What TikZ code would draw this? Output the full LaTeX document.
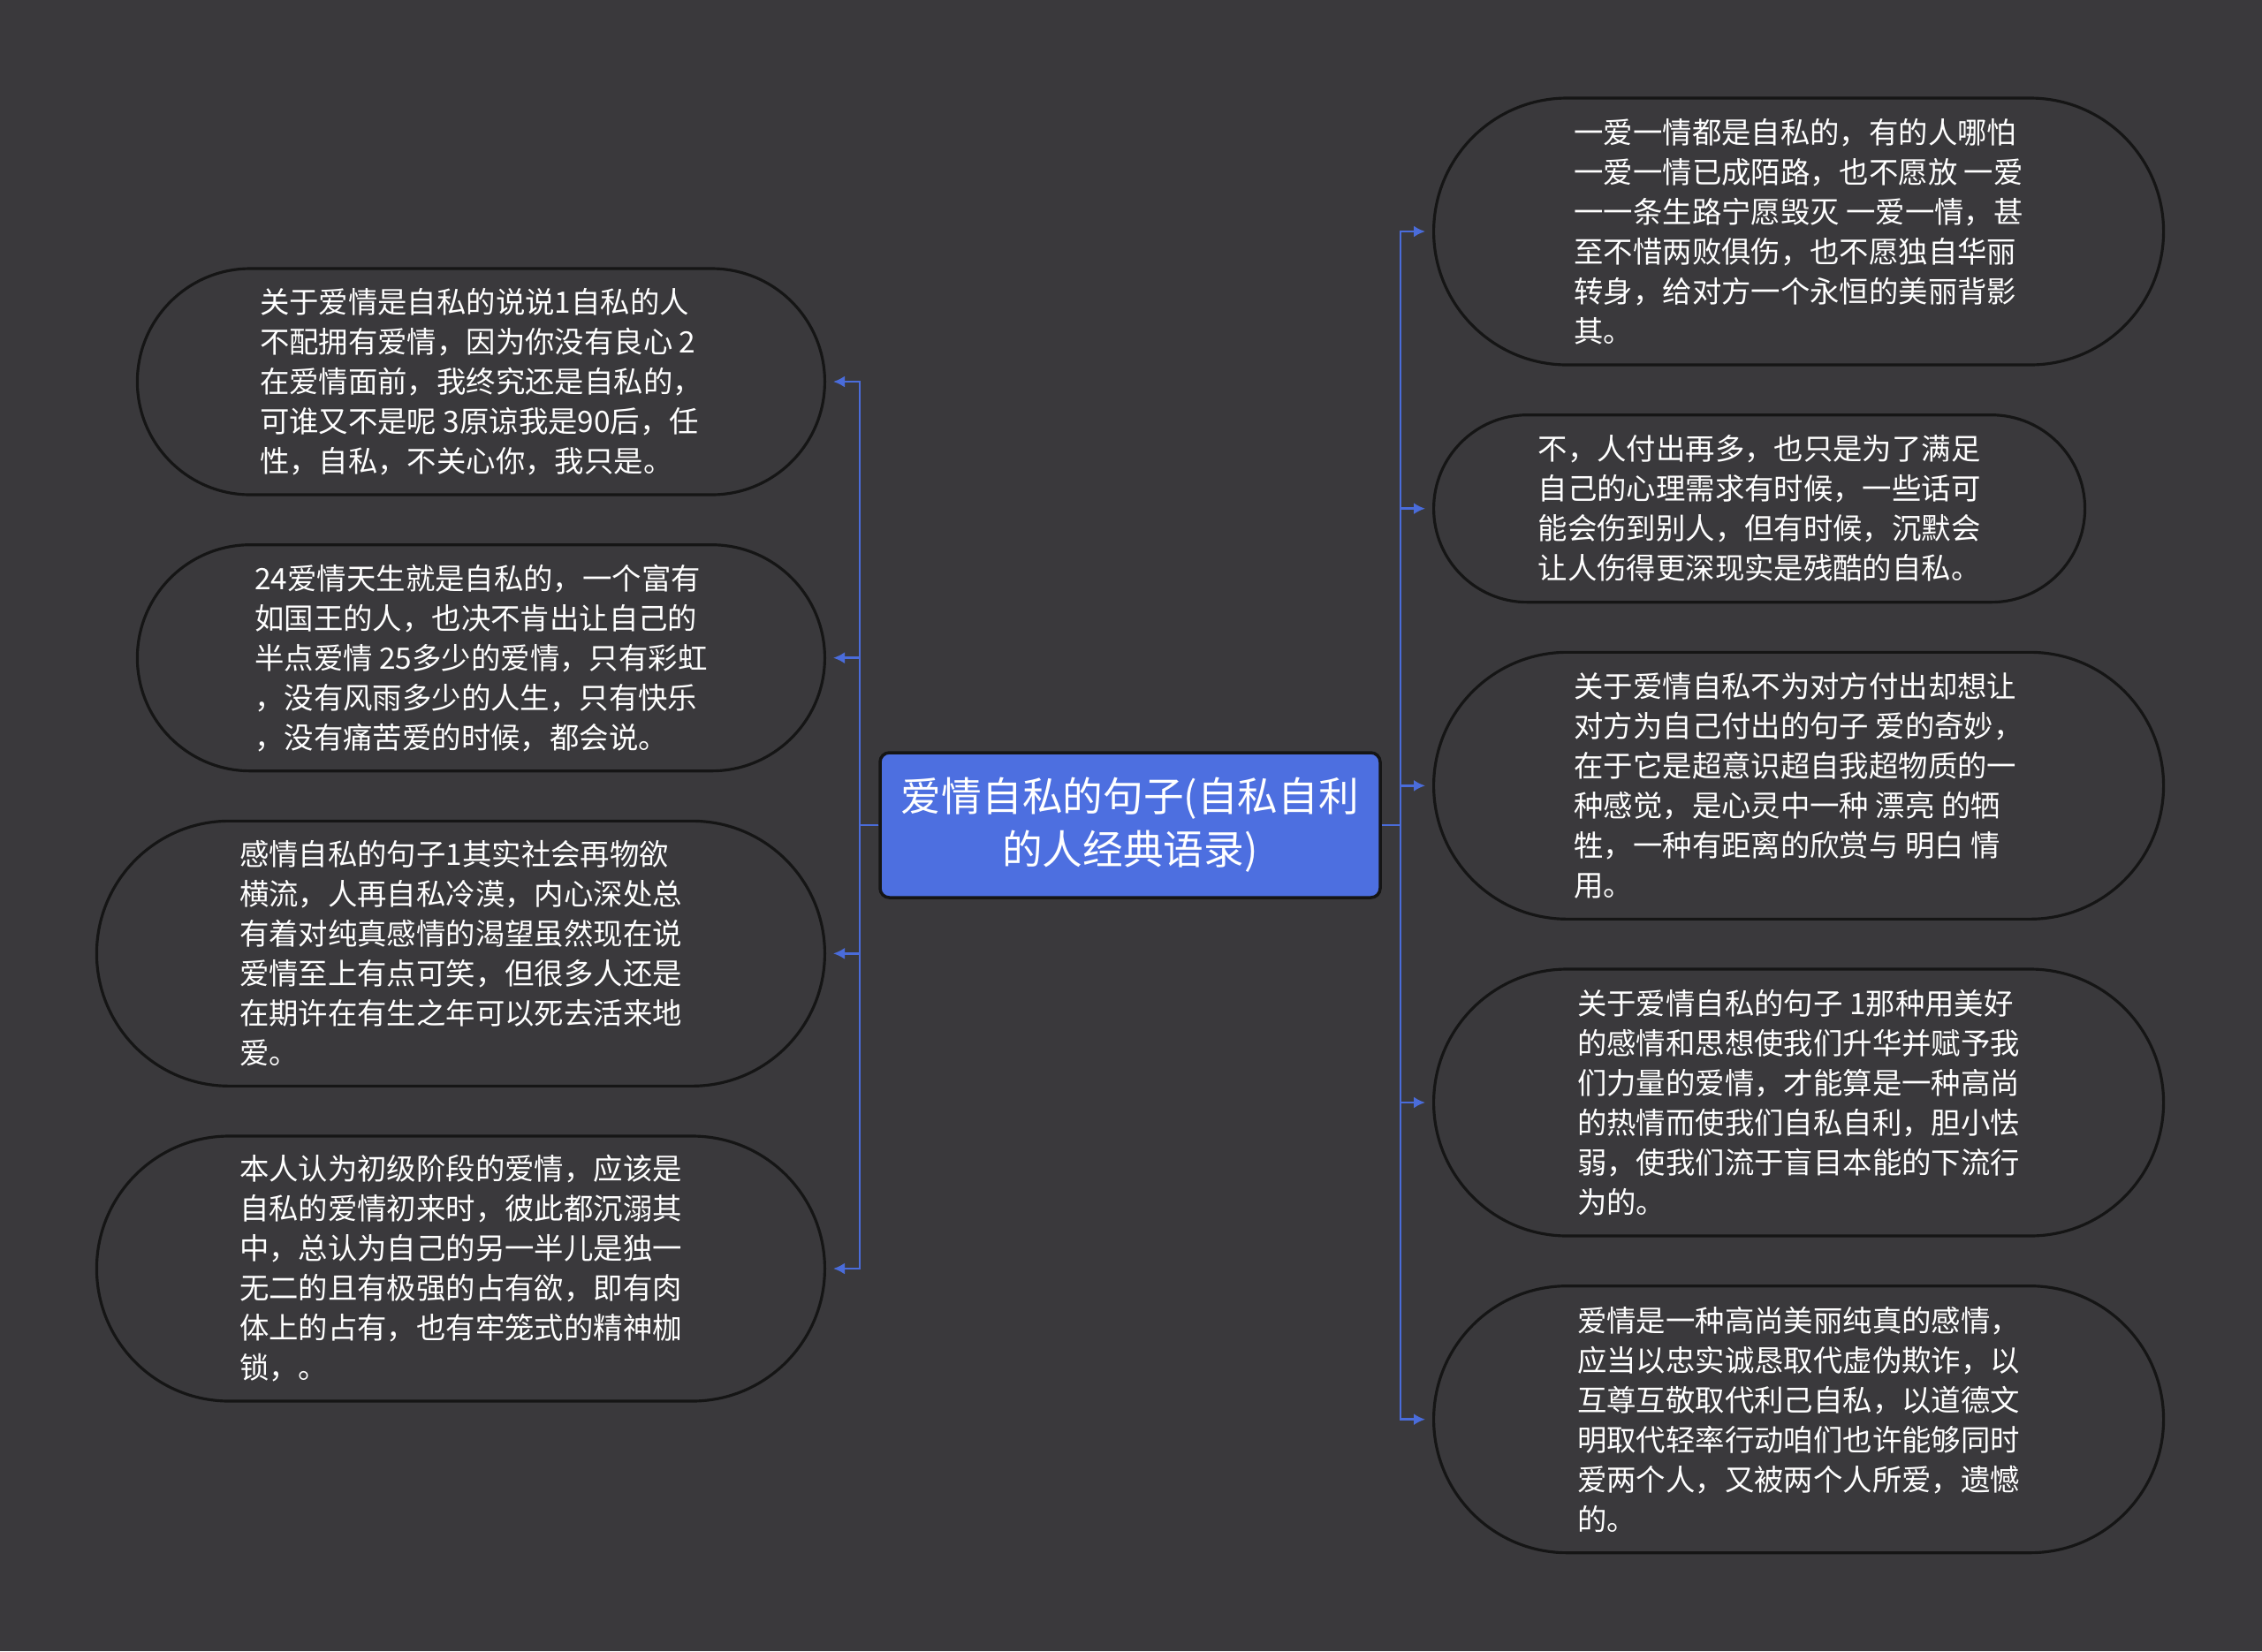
\documentclass[tikz,border=0pt]{standalone}
\usepackage{fontspec}
\newfontfamily\cjk{Noto Sans CJK SC}
\usepackage{xcolor}
\definecolor{bgdark}{HTML}{3A393C}
\definecolor{rootblue}{HTML}{4D6FE0}
\definecolor{linkblue}{HTML}{4A6CDA}
\definecolor{rimblack}{HTML}{151515}
\usetikzlibrary{arrows.meta,positioning}

\begin{document}
\begin{tikzpicture}[
  node distance=5.35mm,
  every node/.style={text=white,align=left},
  root/.style={draw=rimblack,line width=1pt,rounded corners=3pt,fill=rootblue,minimum width=5.66cm,minimum height=1.64cm,align=center,font=\cjk\fontsize{13pt}{17pt}\selectfont},
  leaf/.style 2 args={draw=rimblack,line width=0.9pt,fill=bgdark,minimum width=#1,minimum height=#2,rounded corners=0.5*#2,font=\cjk\fontsize{9.5pt}{12.8pt}\selectfont},
  ar/.style={-{Latex[length=1.3mm,width=1.3mm]},draw=linkblue,line width=0.7pt,shorten >=0.8mm}
]
\fill[bgdark] (0,0) rectangle (25.6,-18.69);
\node[root] (c) at (12.79,-9.34) {爱情自私的句子(自私自利\\的人经典语录)};
\node[leaf={7.78cm}{2.56cm},anchor=east] (l1) at (9.35,-4.32) {关于爱情是自私的说说1自私的人\\不配拥有爱情，因为你没有良心 2\\在爱情面前，我终究还是自私的，\\可谁又不是呢 3原谅我是90后，任\\性，自私，不关心你，我只是。};
\node[leaf={7.78cm}{2.56cm},below=of l1.south east,anchor=north east] (l2) {24爱情天生就是自私的，一个富有\\如国王的人，也决不肯出让自己的\\半点爱情 25多少的爱情，只有彩虹\\，没有风雨多少的人生，只有快乐\\，没有痛苦爱的时候，都会说。};
\node[leaf={8.24cm}{3cm},below=of l2.south east,anchor=north east] (l3) {感情自私的句子1其实社会再物欲\\横流，人再自私冷漠，内心深处总\\有着对纯真感情的渴望虽然现在说\\爱情至上有点可笑，但很多人还是\\在期许在有生之年可以死去活来地\\爱。};
\node[leaf={8.24cm}{3cm},below=of l3.south east,anchor=north east] (l4) {本人认为初级阶段的爱情，应该是\\自私的爱情初来时，彼此都沉溺其\\中，总认为自己的另一半儿是独一\\无二的且有极强的占有欲，即有肉\\体上的占有，也有牢笼式的精神枷\\锁，。};
\node[leaf={8.26cm}{3.02cm},anchor=west] (r1) at (16.21,-2.62) {一爱一情都是自私的，有的人哪怕\\一爱一情已成陌路，也不愿放 一爱\\一一条生路宁愿毁灭 一爱一情，甚\\至不惜两败俱伤，也不愿独自华丽\\转身，给对方一个永恒的美丽背影\\其。};
\node[leaf={7.37cm}{2.12cm},below=of r1.south west,anchor=north west] (r2) {不，人付出再多，也只是为了满足\\自己的心理需求有时候，一些话可\\能会伤到别人，但有时候，沉默会\\让人伤得更深现实是残酷的自私。};
\node[leaf={8.26cm}{3.02cm},below=of r2.south west,anchor=north west] (r3) {关于爱情自私不为对方付出却想让\\对方为自己付出的句子 爱的奇妙，\\在于它是超意识超自我超物质的一\\种感觉，是心灵中一种 漂亮 的牺\\牲，一种有距离的欣赏与 明白 情\\用。};
\node[leaf={8.26cm}{3.02cm},below=of r3.south west,anchor=north west] (r4) {关于爱情自私的句子 1那种用美好\\的感情和思想使我们升华并赋予我\\们力量的爱情，才能算是一种高尚\\的热情而使我们自私自利，胆小怯\\弱，使我们流于盲目本能的下流行\\为的。};
\node[leaf={8.26cm}{3.02cm},below=of r4.south west,anchor=north west] (r5) {爱情是一种高尚美丽纯真的感情，\\应当以忠实诚恳取代虚伪欺诈，以\\互尊互敬取代利己自私，以道德文\\明取代轻率行动咱们也许能够同时\\爱两个人，又被两个人所爱，遗憾\\的。};
\draw[ar] (c.west) -- ++(-0.21,0) |- (l1.east); \draw[ar] (c.west) -- ++(-0.21,0) |- (l2.east);
\draw[ar] (c.west) -- ++(-0.21,0) |- (l3.east); \draw[ar] (c.west) -- ++(-0.21,0) |- (l4.east);
\draw[ar] (c.east) -- ++(0.21,0) |- (r1.west); \draw[ar] (c.east) -- ++(0.21,0) |- (r2.west);
\draw[ar] (c.east) -- ++(0.21,0) |- (r3.west); \draw[ar] (c.east) -- ++(0.21,0) |- (r4.west);
\draw[ar] (c.east) -- ++(0.21,0) |- (r5.west);
\end{tikzpicture}
\end{document}
